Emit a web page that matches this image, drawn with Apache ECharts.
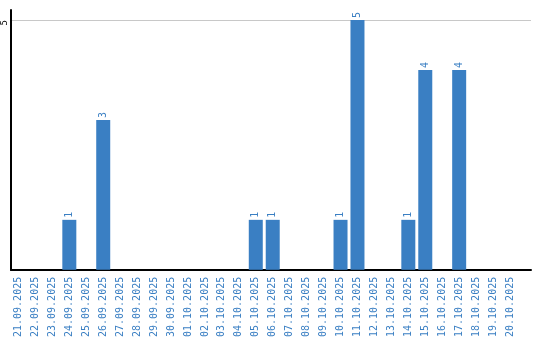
<!DOCTYPE html>
<html><head><meta charset="utf-8">
<script src="https://cdn.jsdelivr.net/npm/echarts@6/dist/echarts.min.js"></script>
<style>html,body{margin:0;padding:0;background:#fff}#c{width:540px;height:340px}</style>
</head><body><div id="c"></div>
<script>
const categories = ["21.09.2025","22.09.2025","23.09.2025","24.09.2025","25.09.2025","26.09.2025","27.09.2025","28.09.2025","29.09.2025","30.09.2025","01.10.2025","02.10.2025","03.10.2025","04.10.2025","05.10.2025","06.10.2025","07.10.2025","08.10.2025","09.10.2025","10.10.2025","11.10.2025","12.10.2025","13.10.2025","14.10.2025","15.10.2025","16.10.2025","17.10.2025","18.10.2025","19.10.2025","20.10.2025"];
const values = [0,0,0,1,0,3,0,0,0,0,0,0,0,0,1,1,0,0,0,1,5,0,0,1,4,0,4,0,0,0];
const yTicks = [0,5];

const blue = '#3a7fc3';
const font = 'DejaVu Sans Mono';
const chart = echarts.init(document.getElementById('c'), null, {renderer:'canvas'});
chart.setOption({
  animation:false,
  grid:[
    {left:11, right:9, top:10, bottom:70},
    {left:8.5, width:510, top:20, bottom:70}
  ],
  xAxis:[
    {gridIndex:0, type:'category', data:[], axisLine:{lineStyle:{color:'#000',width:2}}, axisTick:{show:false}, axisLabel:{show:false}},
    {gridIndex:1, type:'category', data:categories, axisLine:{show:false}, axisTick:{show:false},
     axisLabel:{rotate:90, interval:0, color:blue, fontFamily:font, fontSize:10, margin:7}}
  ],
  yAxis:[
    {gridIndex:0, type:'value', min:0, max:5.2, interval:5, axisLine:{show:true, lineStyle:{color:'#000',width:2}}, axisTick:{show:false}, axisLabel:{show:false},
     splitLine:{show:true, showMinLine:false, showMaxLine:false, lineStyle:{color:'#c8c8c8'}}},
    {gridIndex:1, type:'value', min:yTicks[0], max:yTicks[1], interval:5, axisLine:{show:false}, axisTick:{show:false},
     axisLabel:{rotate:90, align:'right', verticalAlign:'bottom', color:'#000', fontFamily:font, fontSize:9, margin:1, showMinLabel:false, formatter:v=>yTicks.includes(v)?String(v):''},
     splitLine:{show:false}}
  ],
  series:[{
    type:'bar', xAxisIndex:1, yAxisIndex:1, data:values, barWidth:14,
    itemStyle:{color:blue},
    label:{show:true, position:'top', rotate:90, align:'left', verticalAlign:'middle', distance:2,
      color:blue, fontFamily:font, fontSize:10, formatter:p=>p.value?String(p.value):''}
  }]
});
</script></body></html>
